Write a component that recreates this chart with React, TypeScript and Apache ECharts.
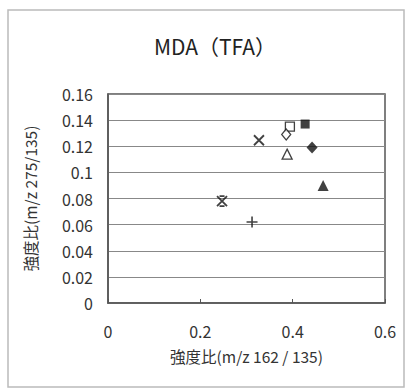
import React, { useEffect, useRef } from "react";
import * as echarts from "echarts";

const xTicks = [0, 0.2, 0.4, 0.6];
const yTicks = [0, 0.02, 0.04, 0.06, 0.08, 0.1, 0.12, 0.14, 0.16];

const pointNames = ["filledSquare", "openSquare", "openDiamond", "cross", "filledDiamond", "openTriangle", "filledTriangle", "asterisk", "plus"];
const xValues = [0.427, 0.394, 0.386, 0.327, 0.442, 0.388, 0.466, 0.247, 0.312];
const yValues = [0.137, 0.135, 0.129, 0.1246, 0.119, 0.114, 0.090, 0.078, 0.062];

const CROSS = "path://M0,0L10,10M10,0L0,10";
const PLUS = "path://M5,0L5,10M0,5L10,5";
const ASTER = "path://M0,0L10,10M10,0L0,10M2.5,0L7.5,0M2.5,10L7.5,10";

const symbolStyles: Record<string, any> = {
  filledSquare: { symbol: "rect", size: 9, itemStyle: { color: "#111" } },
  openSquare: { symbol: "rect", size: 9, itemStyle: { color: "#fff", borderColor: "#111", borderWidth: 1.3 } },
  openDiamond: { symbol: "diamond", size: [9, 11], itemStyle: { color: "#fff", borderColor: "#111", borderWidth: 1.3 } },
  cross: { symbol: CROSS, size: 10, itemStyle: { color: "none", borderColor: "#111", borderWidth: 1.8 } },
  filledDiamond: { symbol: "diamond", size: [11, 12], itemStyle: { color: "#111" } },
  openTriangle: { symbol: "triangle", size: [10, 10], itemStyle: { color: "#fff", borderColor: "#111", borderWidth: 1.3 } },
  filledTriangle: { symbol: "triangle", size: [11, 11], itemStyle: { color: "#111" } },
  asterisk: { symbol: ASTER, size: 10, itemStyle: { color: "none", borderColor: "#111", borderWidth: 1.8 } },
  plus: { symbol: PLUS, size: 11, itemStyle: { color: "none", borderColor: "#111", borderWidth: 1.6 } },
};

export default function App() {
  const ref = useRef<HTMLDivElement>(null);
  useEffect(() => {
    if (!ref.current) return;
    const chart = echarts.init(ref.current, null, { renderer: "svg" });
    const font = "'Noto Sans CJK JP', 'Noto Sans', sans-serif";
    chart.setOption({
      animation: false,
      backgroundColor: "#fff",
      textStyle: { fontFamily: font },
      title: {
        text: "MDA（TFA）",
        left: 210,
        top: 30,
        textAlign: "center",
        textStyle: { fontSize: 21, fontWeight: "normal", color: "#222", fontFamily: font },
      },
      graphic: [
        {
          type: "rect",
          shape: { x: 8, y: 10, width: 396, height: 377 },
          style: { fill: "none", stroke: "#bbb", lineWidth: 1.5 },
          silent: true,
        },
      ],
      grid: { left: 108, right: 26, top: 94, bottom: 88, show: true, borderColor: "#555", borderWidth: 1.5 },
      xAxis: {
        type: "value",
        min: xTicks[0],
        max: xTicks[xTicks.length - 1],
        interval: 0.2,
        name: "強度比(m/z 162 / 135)",
        nameLocation: "middle",
        nameGap: 45,
        nameTextStyle: { fontSize: 15.5, color: "#333", fontFamily: font },
        axisLine: { show: true, lineStyle: { color: "#555", width: 1.5 } },
        axisTick: { show: true, inside: true, length: 4, lineStyle: { color: "#555" } },
        splitLine: { show: false },
        axisLabel: { fontSize: 16, color: "#333", margin: 20, formatter: (v: number) => String(Math.round(v * 10) / 10) },
      },
      yAxis: {
        type: "value",
        min: yTicks[0],
        max: yTicks[yTicks.length - 1],
        interval: 0.02,
        name: "強度比(m/z 275/135)",
        nameLocation: "middle",
        nameGap: 70,
        nameRotate: 90,
        nameTextStyle: { fontSize: 15.5, color: "#333", fontFamily: font },
        axisLine: { show: true, lineStyle: { color: "#555", width: 1.5 } },
        axisTick: { show: false },
        splitLine: { show: true, lineStyle: { color: "#888", width: 1.2 } },
        axisLabel: { fontSize: 16, color: "#333", margin: 15, formatter: (v: number) => String(Math.round(v * 100) / 100) },
      },
      series: pointNames.map((n, i) => ({
        name: n,
        type: "scatter",
        data: [[xValues[i], yValues[i]]],
        symbol: symbolStyles[n].symbol,
        symbolSize: symbolStyles[n].size,
        itemStyle: symbolStyles[n].itemStyle,
        z: 5,
      })),
    });
    return () => chart.dispose();
  }, []);
  return <div ref={ref} style={{ position: "fixed", left: 0, top: 0, width: 411, height: 391 }} />;
}
